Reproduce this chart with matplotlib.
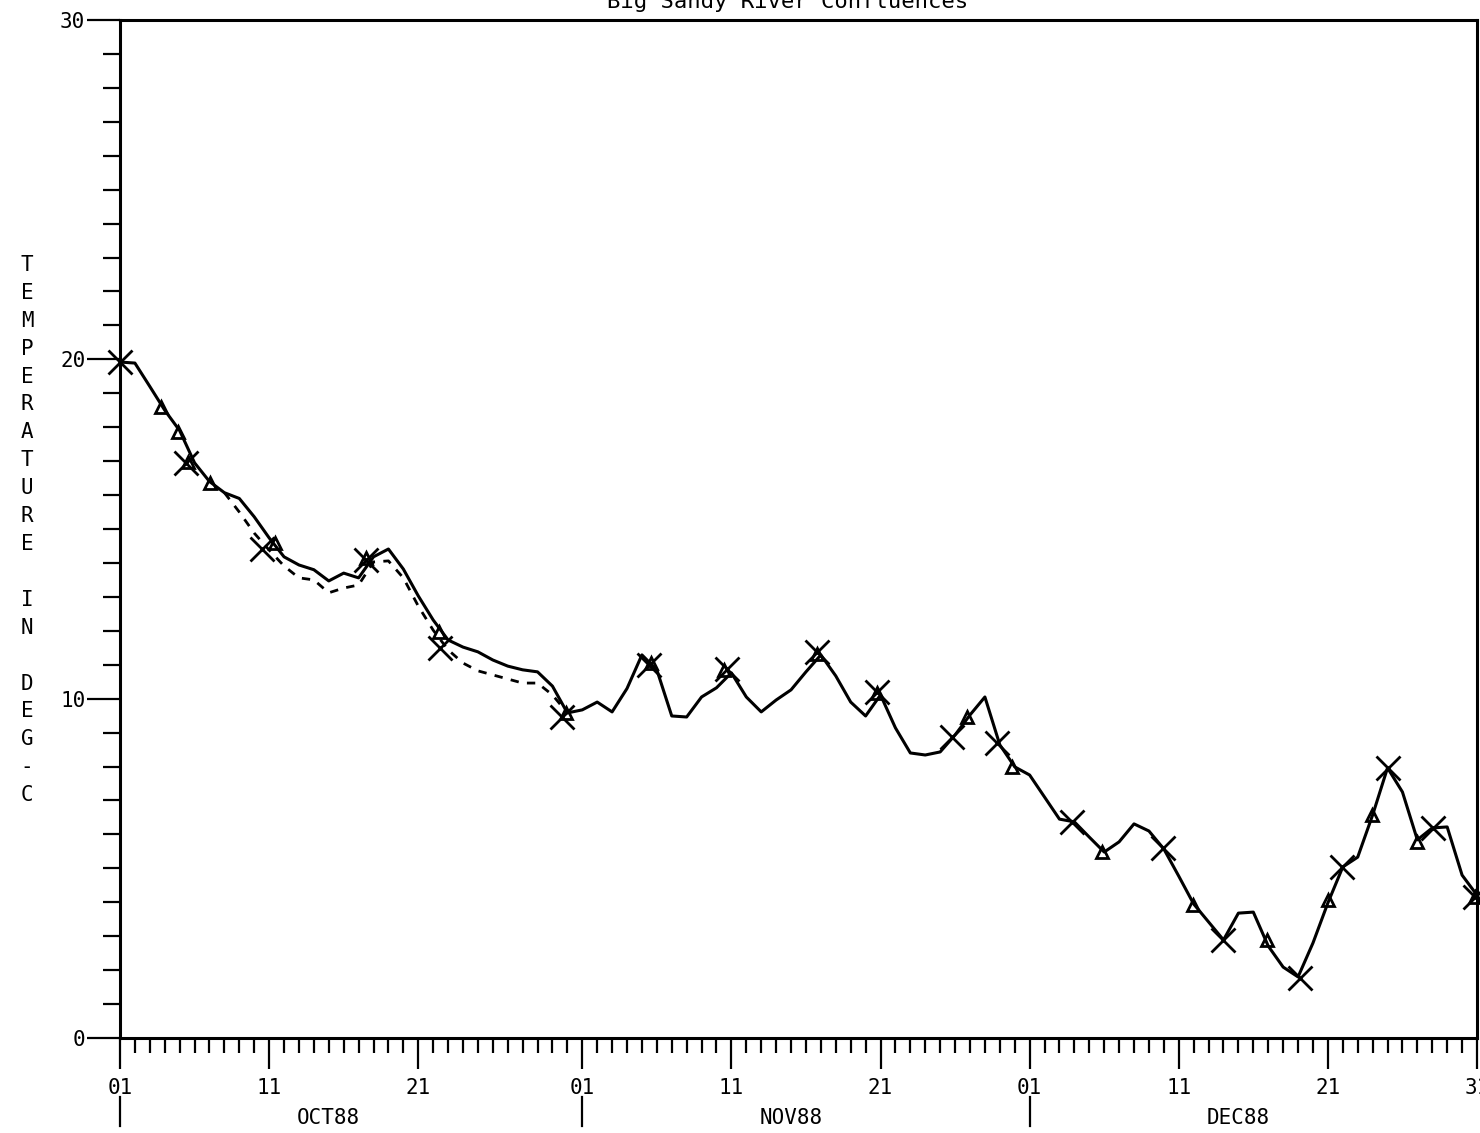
import numpy as np
import matplotlib
matplotlib.use("Agg")
import matplotlib.pyplot as plt
import matplotlib.transforms as mtransforms

# ---------------- data (day 0 = 01 Oct 1988) ----------------
days = list(range(92))
solid = [19.92, 19.89, 19.2, 18.5, 17.9, 16.95, 16.4, 16.07, 15.9, 15.36,
         14.74, 14.18, 13.94, 13.8, 13.47, 13.7, 13.56, 14.18, 14.41, 13.82,
         13.03, 12.32, 11.73, 11.52, 11.38, 11.14, 10.96, 10.85, 10.79, 10.37,
         9.58, 9.67, 9.9, 9.61, 10.3, 11.29, 10.85, 9.49, 9.46, 10.05,
         10.32, 10.76, 10.05, 9.61, 9.96, 10.26, 10.79, 11.29, 10.67, 9.9,
         9.49, 10.11, 9.14, 8.4, 8.34, 8.43, 8.93, 9.52, 10.05, 8.64,
         7.99, 7.75, 7.1, 6.45, 6.37, 5.92, 5.48, 5.78, 6.31, 6.1,
         5.57, 4.77, 3.95, 3.42, 2.89, 3.68, 3.71, 2.71, 2.09, 1.8,
         2.8, 3.98, 5.04, 5.33, 6.57, 7.96, 7.25, 5.84, 6.19, 6.22,
         4.8, 4.21]

dash_days = list(range(7, 31))
dashed = [16.07, 15.5, 14.88, 14.38, 13.91, 13.56, 13.5, 13.12, 13.26, 13.35,
          14.03, 14.06, 13.56, 12.73, 12.02, 11.44, 11.05, 10.82, 10.7, 10.58,
          10.46, 10.46, 10.11, 9.58]

x_days = [0.0, 4.43, 9.54, 16.52, 21.49, 29.62, 35.46, 40.7, 46.74, 50.77,
          55.81, 58.83, 63.87, 69.91, 73.94, 79.11, 81.93, 85.02, 88.04, 90.87]
x_vals = [19.92, 16.95, 14.41, 14.09, 11.49, 9.46, 10.99, 10.88, 11.38, 10.2,
          8.87, 8.69, 6.37, 5.6, 2.89, 1.77, 5.04, 7.96, 6.19, 4.16]

tri_days = [2.75, 3.9, 4.57, 6.04, 10.41, 16.52, 21.36, 29.89, 35.6, 40.5,
            46.74, 50.77, 56.82, 59.84, 65.88, 71.93, 76.9, 81.0, 83.95, 86.97, 90.87]
tri_vals = [18.6, 17.86, 16.98, 16.36, 14.59, 14.15, 11.97, 9.58, 11.05, 10.85,
            11.32, 10.17, 9.46, 7.99, 5.48, 3.92, 2.89, 4.07, 6.57, 5.78, 4.16]

tick_days = [0, 10, 20, 31, 41, 51, 61, 71, 81, 91]
tick_labels = ["01", "11", "21", "01", "11", "21", "01", "11", "21", "31"]
month_starts = [0, 31, 61]
month_mid = [14, 45, 75]
month_labels = ["OCT88", "NOV88", "DEC88"]
y_major = [0, 10, 20, 30]

title = "Big Sandy River Confluences"
ylabel = "TEMPERATURE IN DEG-C"

# ---------------- figure ----------------
W, H = 1480, 1133
fig = plt.figure(figsize=(W / 100, H / 100), dpi=100)
font = "DejaVu Sans Mono"
plt.rcParams["font.family"] = font

ax = fig.add_axes([120 / W, 1 - 1038 / H, (1477 - 120) / W, (1038 - 20) / H])
ax.set_xlim(0, 91)
ax.set_ylim(0, 30)

ax.plot(dash_days, dashed, color="black", lw=2.0, ls=(0, (3, 3)), zorder=2)
ax.plot(days, solid, color="black", lw=2.2, zorder=3)
ax.plot(x_days, x_vals, ls="none", marker="x", ms=17, mew=2.0, color="black",
        zorder=4, clip_on=False)
ax.plot(tri_days, tri_vals, ls="none", marker="^", ms=8, mew=2.0,
        mfc="none", mec="black", zorder=4, clip_on=False)

for s in ax.spines.values():
    s.set_linewidth(2.2)
    s.set_color("black")

# y ticks
ax.set_yticks(y_major)
ax.set_yticks(np.arange(0, 31, 1), minor=True)
ax.tick_params(axis="y", which="major", direction="out", length=24, width=1.6,
               labelsize=15, pad=1)
ax.tick_params(axis="y", which="minor", direction="out", length=12, width=1.6)

# x ticks
ax.set_xticks(tick_days)
ax.set_xticklabels(tick_labels)
ax.set_xticks(days, minor=True)
ax.tick_params(axis="x", which="major", direction="out", length=22, width=1.6,
               labelsize=15, pad=7)
ax.tick_params(axis="x", which="minor", direction="out", length=11, width=1.6)

# month separators and labels
trans = mtransforms.blended_transform_factory(ax.transData, ax.transAxes)
for d in month_starts:
    ax.plot([d, d], [-0.058, -0.086], color="black", lw=1.6,
            transform=trans, clip_on=False)
for d, lab in zip(month_mid, month_labels):
    ax.text(d, -0.079, lab, transform=trans, ha="center", va="center",
            fontsize=15, family=font)

# title (mostly cut by the top edge)
fig.text(788 / W, 1 - 8 / H, title, ha="center", va="baseline",
         fontsize=16, family=font)

# stacked y label
y0, step = 265, 27.9
for i, ch in enumerate(ylabel):
    if ch != " ":
        fig.text(27 / W, 1 - (y0 + i * step) / H, ch, ha="center", va="center",
                 fontsize=15, family=font)

fig.savefig("out.png", dpi=100)
